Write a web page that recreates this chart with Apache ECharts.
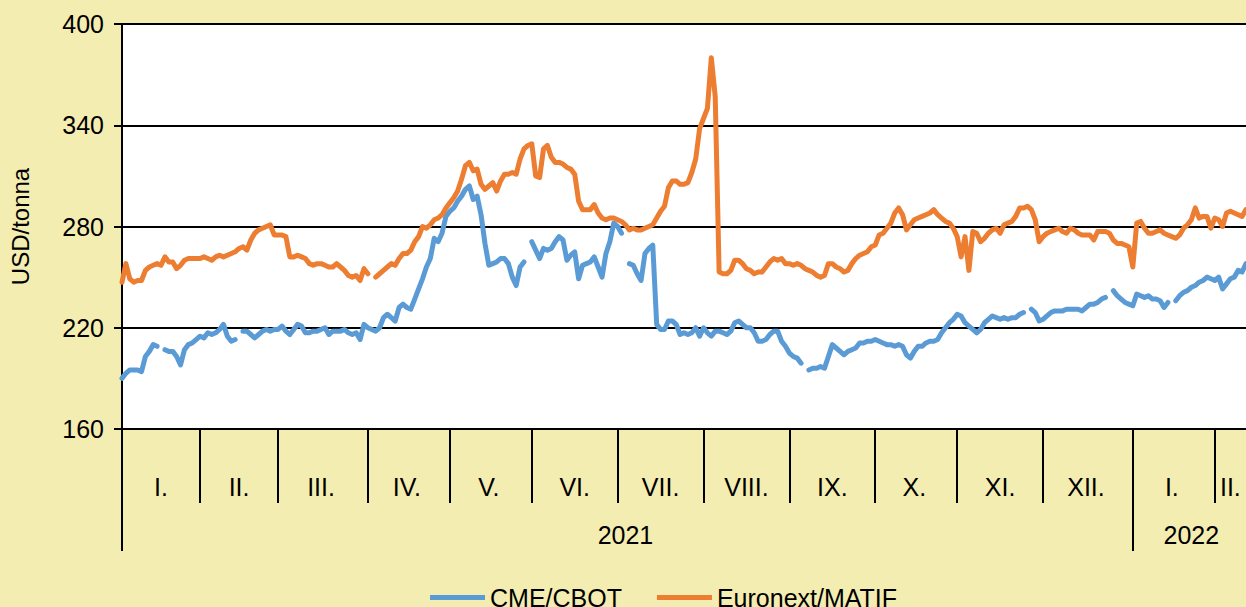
<!DOCTYPE html>
<html>
<head>
<meta charset="utf-8">
<script src="https://cdn.jsdelivr.net/npm/echarts@6/dist/echarts.min.js"></script>
<style>
  html, body { margin: 0; padding: 0; background: #F4EDB1; }
  #chart { width: 1246px; height: 607px; }
</style>
</head>
<body>
<div id="chart"></div>
<script>
// months on the axis (2021 I.–XII., 2022 I.–II.) and trading days per month
var monthLabels = ['I.', 'II.', 'III.', 'IV.', 'V.', 'VI.', 'VII.', 'VIII.', 'IX.', 'X.', 'XI.', 'XII.', 'I.', 'II.'];
var monthYears = [2021, 2021, 2021, 2021, 2021, 2021, 2021, 2021, 2021, 2021, 2021, 2021, 2022, 2022];
var tradingDays = [20, 20, 23, 21, 21, 22, 22, 22, 22, 21, 22, 23, 21, 9];
var yearLabels = ['2021', '2022'];
var yTicks = [160, 220, 280, 340, 400];

// CME/CBOT, USD/tonna (null = no quote)
var cbot = [
  190, 193, 195, 195, 195, 194, 203, 206, 210, 209, null, 207, 206, 206, 203, 198, 207, 210, 211, 213,
  215, 214, 217, 216, 217, 219, 222, 215, 212, 213, null, 218, 218, 216, 214, 216, 218, 219, 218, 219,
  219, 221, 218, 216, 219, 222, 221, 217, 217, 218, 218, 219, 220, 216, 218, 218, 218, 219, 217, 216, 217, 213, 222,
  220, 219, 218, 220, 226, 228, 226, 224, 232, 234, 232, 231, 237, 243, 249, 256, 261, 273, 271, 276, 286,
  289, 291, 295, 298, 302, 304, 296, 298, 287, 270, 257, 258, 259, 261, 261, 258, 250, 245, 256, 259, null,
  271, 266, 261, 267, 266, 267, 271, 274, 272, 260, 263, 265, 249, 257, 258, 259, 262, 256, 250, 264, 271, 282,
  280, 276, null, 258, 257, 252, 248, 264, 267, 269, 222, 219, 219, 224, 224, 222, 216, 217, 216, 217, 220, 215,
  220, 217, 215, 218, 218, 217, 216, 218, 223, 224, 222, 220, 220, 217, 212, 212, 213, 216, 218, 218, 212, 209,
  205, 203, 202, 199, null, 195, 196, 196, 197, 196, 203, 210, 208, 206, 204, 206, 207, 208, 211, 211, 212, 212,
  213, 212, 211, 210, 210, 209, 210, 209, 204, 202, 206, 209, 209, 211, 212, 212, 213, 217, 220, 223, 225,
  228, 227, 223, 221, 219, 217, 219, 223, 225, 227, 226, 225, 226, 225, 226, 226, 228, 229, null, 231, 229, 224,
  225, 227, 229, 230, 230, 230, 231, 231, 231, 231, 230, 232, 234, 234, 235, 237, 238, null, 242, 239, 237, 235, 234,
  233, 240, 239, 238, 239, 237, 237, 236, 232, 235, null, 236, 239, 241, 242, 244, 245, 247, 248, 250, 249,
  248, 250, 243, 246, 249, 250, 254, 253, 258
];

// Euronext/MATIF, USD/tonna
var matif = [
  247, 258, 249, 247, 248, 248, 254, 256, 257, 258, 257, 262, 259, 259, 255, 257, 260, 261, 261, 261,
  261, 262, 261, 260, 262, 263, 262, 263, 264, 265, 267, 268, 266, 272, 276, 278, 279, 280, 281, 275,
  275, 275, 274, 262, 262, 263, 262, 261, 258, 257, 258, 258, 257, 256, 256, 258, 256, 254, 251, 250, 251, 248, 255,
  252, null, 250, 252, 254, 256, 258, 257, 261, 264, 264, 266, 271, 274, 280, 279, 281, 284, 285, 287, 291,
  294, 297, 301, 308, 316, 318, 313, 314, 305, 302, 304, 306, 301, 307, 311, 311, 312, 311, 320, 326, 328,
  329, 310, 309, 326, 328, 321, 318, 318, 317, 315, 314, 311, 295, 290, 290, 290, 293, 288, 285, 284, 285, 285,
  284, 283, 281, 278, 279, 278, 278, 279, 280, 281, 285, 289, 292, 303, 307, 307, 305, 305, 306, 312, 320, 338,
  344, 350, 380, 357, 253, 252, 252, 254, 260, 260, 258, 255, 254, 252, 253, 253, 256, 259, 261, 260, 261, 258,
  258, 257, 258, 257, 255, 254, 253, 251, 250, 251, 258, 258, 256, 255, 253, 254, 258, 261, 263, 264, 265, 268,
  269, 275, 276, 279, 282, 288, 291, 287, 278, 281, 284, 285, 286, 287, 288, 290, 287, 285, 283, 282, 279,
  274, 262, 274, 254, 277, 276, 271, 273, 276, 278, 279, 276, 281, 282, 283, 286, 291, 291, 292, 290, 284, 271,
  274, 276, 277, 278, 279, 277, 276, 279, 278, 276, 275, 275, 275, 272, 277, 277, 277, 276, 272, 270, 270, 269, 268,
  256, 282, 283, 279, 276, 276, 277, 278, 276, 275, 274, 273, 275, 279, 281, 284, 291, 285, 286, 286, 279,
  285, 284, 280, 288, 289, 288, 287, 286, 290
];

(function() {
  var ink = '#000000';
  var font = 'Liberation Sans, Arial, sans-serif';

  // one category per trading day, plus where months / years start
  var categories = [];
  var monthStart = {}, monthMid = {}, yearStart = {}, yearMid = {};
  var yearFirst = {}, yearCount = {};
  monthLabels.forEach(function(m, i) {
    var start = categories.length;
    monthStart[start] = true;
    monthMid[start + Math.floor(tradingDays[i] / 2)] = m;
    var y = monthYears[i];
    if (yearFirst[y] === undefined) { yearFirst[y] = start; yearCount[y] = 0; yearStart[start] = true; }
    yearCount[y] += tradingDays[i];
    for (var d = 1; d <= tradingDays[i]; d++) categories.push(y + '.' + m + d);
  });
  yearLabels.forEach(function(y) {
    yearMid[yearFirst[y] + Math.floor(yearCount[y] / 2)] = y;
  });

  var chart = echarts.init(document.getElementById('chart'), null, { renderer: 'svg' });
  chart.setOption({
    animation: false,
    backgroundColor: '#F4EDB1',
    textStyle: { fontFamily: font, color: ink },
    grid: {
      left: 122, right: 0, top: 24, bottom: 178,
      outerBoundsMode: 'none',
      show: true, backgroundColor: '#ffffff', borderWidth: 0
    },
    legend: {
      left: 425, top: 580,
      icon: 'rect', itemWidth: 55, itemHeight: 5, itemGap: 35,
      textStyle: { fontSize: 25, color: ink, fontFamily: font },
      data: ['CME/CBOT', 'Euronext/MATIF']
    },
    xAxis: [{
      type: 'category',
      data: categories,
      boundaryGap: false,
      axisLine: { show: true, lineStyle: { color: ink, width: 2 } },
      axisTick: {
        show: true, length: 74,
        interval: function(idx) { return !!monthStart[idx]; },
        lineStyle: { color: ink, width: 2 }
      },
      axisLabel: {
        interval: function(idx) { return monthMid[idx] !== undefined; },
        formatter: function(v, idx) { return monthMid[idx] || ''; },
        margin: 45, fontSize: 25, color: ink, fontFamily: font
      },
      splitLine: { show: false }
    }, {
      type: 'category',
      data: categories,
      boundaryGap: false,
      position: 'bottom',
      offset: 0,
      axisLine: { show: false },
      axisTick: {
        show: true, length: 122,
        interval: function(idx) { return !!yearStart[idx]; },
        lineStyle: { color: ink, width: 2 }
      },
      axisLabel: {
        interval: function(idx) { return yearMid[idx] !== undefined; },
        formatter: function(v, idx) { return yearMid[idx] || ''; },
        margin: 93, fontSize: 25, color: ink, fontFamily: font
      },
      splitLine: { show: false }
    }],
    yAxis: {
      type: 'value',
      min: yTicks[0], max: yTicks[yTicks.length - 1], interval: yTicks[1] - yTicks[0],
      name: 'USD/tonna',
      nameLocation: 'middle', nameGap: 90,
      nameTextStyle: { fontSize: 24, color: ink, fontFamily: font },
      axisLine: { show: true, lineStyle: { color: ink, width: 2 } },
      axisTick: { show: true, length: 8, lineStyle: { color: ink, width: 2 } },
      axisLabel: { margin: 18, fontSize: 25, color: ink, fontFamily: font },
      splitLine: { show: true, lineStyle: { color: ink, width: 2 } }
    },
    series: [{
      name: 'CME/CBOT',
      type: 'line',
      data: cbot,
      showSymbol: false,
      connectNulls: false,
      color: '#5B9BD5',
      lineStyle: { width: 5, color: '#5B9BD5', join: 'round', cap: 'round' }
    }, {
      name: 'Euronext/MATIF',
      type: 'line',
      data: matif,
      showSymbol: false,
      connectNulls: false,
      color: '#ED7D31',
      lineStyle: { width: 5, color: '#ED7D31', join: 'round', cap: 'round' }
    }]
  });
  window.addEventListener('resize', function() { chart.resize(); });
})();
</script>
</body>
</html>
